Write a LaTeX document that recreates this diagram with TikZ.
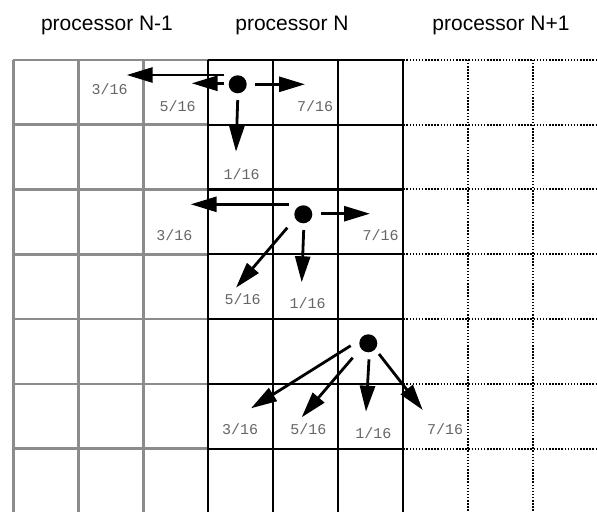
\documentclass[tikz,border=0pt]{standalone}
\usepackage{fontspec}
\setmainfont{Liberation Sans}
\newfontfamily\monof{Liberation Mono}
\usetikzlibrary{arrows.meta}
\begin{document}
\begin{tikzpicture}[x=1pt,y=-1pt,
 graygrid/.style={draw=black!45, line width=2.6pt},
 blackgrid/.style={draw=black, line width=2.2pt},
 dotgrid/.style={draw=black, line width=2pt, dash pattern=on 1.5pt off 1.6pt},
 arr/.style={line width=2.8pt, -{Triangle[length=26pt,width=15pt]}},
 pt/.style={circle, fill=black, minimum size=18pt, inner sep=0pt},
 frac/.style={font=\monof\fontsize{15}{15}\selectfont, text=black!60, inner sep=0pt},
 head/.style={font=\fontsize{21}{21}\selectfont, anchor=base, inner sep=0pt}]
\useasboundingbox (0,0) rectangle (597,512);
\fill[white] (0,0) rectangle (597,512);
% headers
\node[head] (h1) at (107,30) {processor N-1};
\node[head] (h2) at (292,30) {processor N};
\node[head] (h3) at (501,30) {processor N+1};
% grid: left (gray)
\foreach \x in {13.3,78.3,143.3} \draw[graygrid] (\x,59.8) -- (\x,512);
\foreach \y in {59.8,124.6,189.4,254.2,319,383.8,448.6} \draw[graygrid] (13.3,\y) -- (208.3,\y);
% grid: right (dotted)
\foreach \x in {468.3,533.3} \draw[dotgrid] (\x,59.8) -- (\x,512);
\foreach \y in {59.8,124.6,189.4,254.2,319,383.8,448.6} \draw[dotgrid] (403.3,\y) -- (597,\y);
% grid: middle (black)
\foreach \x in {208.3,273.3,338.3,403.3} \draw[blackgrid] (\x,59.8) -- (\x,512);
\foreach \y in {59.8,124.6,189.4,254.2,319,383.8,448.6} \draw[blackgrid] (208.3,\y) -- (403.3,\y);
% ---- row 1
\node[pt] (d1) at (237.7,84.3) {};
\coordinate (a1s) at (224,75);   \coordinate (a1e) at (126.7,75);
\coordinate (b1s) at (224,83.3); \coordinate (b1e) at (191.7,83.3);
\coordinate (c1s) at (255,84.3); \coordinate (c1e) at (305,84.3);
\coordinate (e1s) at (237.7,100); \coordinate (e1e) at (236,151.7);
\draw[arr] (a1s) -- (a1e);
\draw[arr] (b1s) -- (b1e);
\draw[arr] (c1s) -- (c1e);
\draw[arr] (e1s) -- (e1e);
\node[frac] (l13) at (109.7,89.3) {3/16};
\node[frac] (l15) at (177.7,106) {5/16};
\node[frac] (l17) at (315,106) {7/16};
\node[frac] (l11) at (241.7,174.3) {1/16};
% ---- row 2
\node[pt] (d2) at (303.3,214.3) {};
\coordinate (a2s) at (289.3,204.3); \coordinate (a2e) at (190.7,204.3);
\coordinate (c2s) at (320.7,213.7); \coordinate (c2e) at (370,213.7);
\coordinate (b2s) at (287.3,227.7); \coordinate (b2e) at (236,287.7);
\coordinate (e2s) at (303.7,230);   \coordinate (e2e) at (301.7,282.3);
\draw[arr] (a2s) -- (a2e);
\draw[arr] (c2s) -- (c2e);
\draw[arr] (b2s) -- (b2e);
\draw[arr] (e2s) -- (e2e);
\node[frac] (l23) at (174.3,235) {3/16};
\node[frac] (l27) at (380.7,235) {7/16};
\node[frac] (l25) at (242.7,299) {5/16};
\node[frac] (l21) at (307.7,303.3) {1/16};
% ---- row 3
\node[pt] (d3) at (368.3,343.3) {};
\coordinate (a3s) at (350.7,345.7); \coordinate (a3e) at (251,408.3);
\coordinate (b3s) at (352.7,357.7); \coordinate (b3e) at (301.7,417.3);
\coordinate (e3s) at (369,359.3);   \coordinate (e3e) at (366,411.7);
\coordinate (c3s) at (379,354);     \coordinate (c3e) at (422.7,410);
\draw[arr] (a3s) -- (a3e);
\draw[arr] (b3s) -- (b3e);
\draw[arr] (e3s) -- (e3e);
\draw[arr] (c3s) -- (c3e);
\node[frac] (l33) at (240,429.3) {3/16};
\node[frac] (l35) at (308.3,429.3) {5/16};
\node[frac] (l31) at (373.3,433.3) {1/16};
\node[frac] (l37) at (445,429.3) {7/16};
\end{tikzpicture}
\end{document}
